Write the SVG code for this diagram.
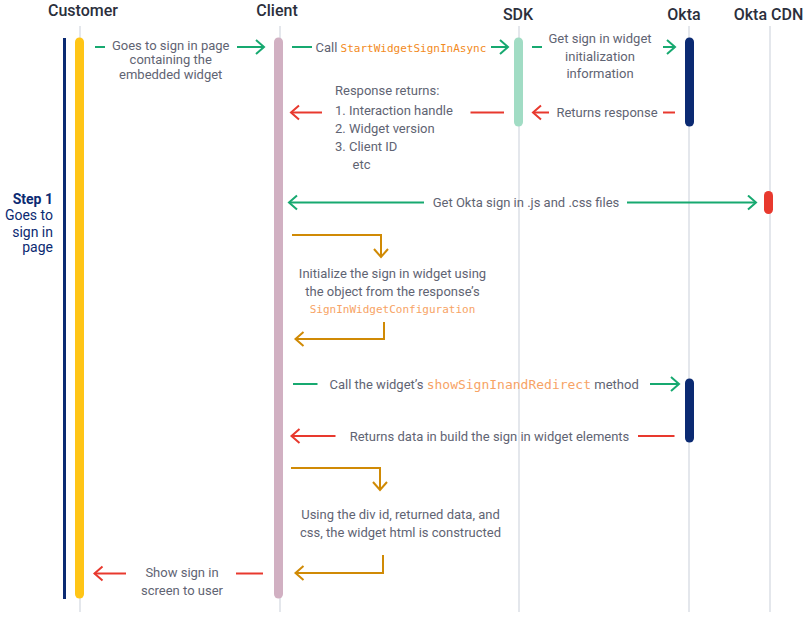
<svg xmlns="http://www.w3.org/2000/svg" width="811" height="619" viewBox="0 0 811 619">
<defs>
<style>
.hd{font-family:Roboto,"Liberation Sans",sans-serif;font-size:16px;font-weight:500;fill:#2b2f3c;text-anchor:middle}
.t{font-family:Roboto,"Liberation Sans",sans-serif;font-size:13px;fill:#5f6473}
.c{text-anchor:middle}
.code{font-family:"DejaVu Sans Mono","Liberation Mono",monospace;fill:#f7a365}
.code2{font-family:"DejaVu Sans Mono","Liberation Mono",monospace;fill:#f28a22;font-size:11px}
.small{font-size:11px}
.life{stroke:#e4e7ec;stroke-width:2;fill:none}
.bar{stroke-width:9;stroke-linecap:round;fill:none}
.g{stroke:#17a970;stroke-width:2;fill:none}
.r{stroke:#e8392e;stroke-width:2;fill:none}
.o{stroke:#d08a05;stroke-width:2;fill:none}
.step{font-family:Roboto,"Liberation Sans",sans-serif;font-size:14px;fill:#0b2a72;text-anchor:end}
</style>
<marker id="mg" markerUnits="userSpaceOnUse" markerWidth="12" markerHeight="18" refX="9" refY="8" orient="auto-start-reverse"><path d="M1,1 L9,8 L1,15" fill="none" stroke="#17a970" stroke-width="2"/></marker>
<marker id="mr" markerUnits="userSpaceOnUse" markerWidth="12" markerHeight="18" refX="9" refY="8" orient="auto-start-reverse"><path d="M1,1 L9,8 L1,15" fill="none" stroke="#e8392e" stroke-width="2"/></marker>
<marker id="mo" markerUnits="userSpaceOnUse" markerWidth="12" markerHeight="18" refX="9" refY="8" orient="auto-start-reverse"><path d="M1,1 L9,8 L1,15" fill="none" stroke="#d08a05" stroke-width="2"/></marker>
</defs>
<rect width="811" height="619" fill="#ffffff"/>

<g id="customer">
<text class="hd" x="83" y="16">Customer</text>
<line class="life" x1="80" y1="26" x2="80" y2="612"/>
<line class="bar" x1="79.5" y1="42" x2="79.5" y2="594" stroke="#ffc516"/>
</g>
<g id="client">
<text class="hd" x="277" y="16">Client</text>
<line class="life" x1="280" y1="26" x2="280" y2="612"/>
<line class="bar" x1="278.5" y1="42" x2="278.5" y2="594" stroke="#d1b0c2"/>
</g>
<g id="sdk">
<text class="hd" x="518" y="20">SDK</text>
<line class="life" x1="519" y1="26" x2="519" y2="612"/>
<line class="bar" x1="518.5" y1="42" x2="518.5" y2="122" stroke="#a1dcc4"/>
</g>
<g id="okta">
<text class="hd" x="684" y="20">Okta</text>
<line class="life" x1="689" y1="26" x2="689" y2="612"/>
<line class="bar" x1="689.5" y1="42" x2="689.5" y2="122" stroke="#0b2a72"/>
<line class="bar" x1="689.5" y1="383" x2="689.5" y2="438" stroke="#0b2a72"/>
</g>
<g id="okta-cdn">
<text class="hd" x="768.5" y="20">Okta CDN</text>
<line class="life" x1="770" y1="26" x2="770" y2="612"/>
<line class="bar" x1="768.5" y1="195.5" x2="768.5" y2="209.5" stroke="#e8392e"/>
</g>
<g id="step1">
<line x1="64.5" y1="38" x2="64.5" y2="599" stroke="#0b2a72" stroke-width="3"/>
<text class="step" x="53" y="204" font-weight="700">Step 1</text>
<text class="step" x="53" y="220">Goes to</text>
<text class="step" x="53" y="236.5">sign in</text>
<text class="step" x="53" y="252">page</text>
</g>

<g id="connectors">
<line class="g" x1="95" y1="47" x2="105" y2="47"/>
<line class="g" x1="237" y1="47" x2="264" y2="47" marker-end="url(#mg)"/>
<line class="g" x1="292" y1="47" x2="312" y2="47"/>
<line class="g" x1="491" y1="47" x2="508" y2="47" marker-end="url(#mg)"/>
<line class="g" x1="532" y1="47" x2="542" y2="47"/>
<line class="g" x1="663" y1="47" x2="675" y2="47" marker-end="url(#mg)"/>
<line class="r" x1="663" y1="112.5" x2="675" y2="112.5"/>
<line class="r" x1="549" y1="112.5" x2="533" y2="112.5" marker-end="url(#mr)"/>
<line class="r" x1="470.5" y1="112.5" x2="504" y2="112.5"/>
<line class="r" x1="322" y1="112.5" x2="291" y2="112.5" marker-end="url(#mr)"/>
<line class="g" x1="424" y1="202.5" x2="289" y2="202.5" marker-end="url(#mg)"/>
<line class="g" x1="627" y1="202.5" x2="756" y2="202.5" marker-end="url(#mg)"/>
<path class="o" d="M292,235 H381 V257" marker-end="url(#mo)"/>
<path class="o" d="M384,322 V339 H295.5" marker-end="url(#mo)"/>
<line class="g" x1="293" y1="384" x2="317.5" y2="384"/>
<line class="g" x1="650" y1="384" x2="679" y2="384" marker-end="url(#mg)"/>
<line class="r" x1="638" y1="436" x2="674.5" y2="436"/>
<line class="r" x1="335.5" y1="436" x2="291.5" y2="436" marker-end="url(#mr)"/>
<path class="o" d="M291,468 H380 V490" marker-end="url(#mo)"/>
<path class="o" d="M383,555 V573 H295.5" marker-end="url(#mo)"/>
<line class="r" x1="236" y1="573.5" x2="263" y2="573.5"/>
<line class="r" x1="126" y1="573.5" x2="94.5" y2="573.5" marker-end="url(#mr)"/>
</g>

<g id="labels">
<text class="t c" x="170.7" y="49.5">Goes to sign in page</text>
<text class="t c" x="170.7" y="64">containing the</text>
<text class="t c" x="170.7" y="78.5">embedded widget</text>
<text class="t" x="315.5" y="51.5">Call <tspan class="code2">StartWidgetSignInAsync</tspan></text>
<text class="t c" x="600" y="42.5">Get sign in widget</text>
<text class="t c" x="600" y="60.5">initialization</text>
<text class="t c" x="600" y="77.5">information</text>
<text class="t" x="335" y="94.5">Response returns:</text>
<text class="t" x="335" y="115">1. Interaction handle</text>
<text class="t" x="335" y="133">2. Widget version</text>
<text class="t" x="335" y="151">3. Client ID</text>
<text class="t" x="352.5" y="169">etc</text>
<text class="t c" x="607" y="117">Returns response</text>
<text class="t c" x="526" y="206.5">Get Okta sign in .js and .css files</text>
<text class="t c" x="392.5" y="277.5">Initialize the sign in widget using</text>
<text class="t c" x="392.5" y="295.5">the object from the response’s</text>
<text class="t c code small" x="392.5" y="313">SignInWidgetConfiguration</text>
<text class="t" x="329.5" y="388.5">Call the widget’s <tspan class="code">showSignInandRedirect</tspan> method</text>
<text class="t c" x="489.5" y="440.5">Returns data in build the sign in widget elements</text>
<text class="t c" x="400.5" y="518.5">Using the div id, returned data, and</text>
<text class="t c" x="400.5" y="536.5">css, the widget html is constructed</text>
<text class="t c" x="182" y="577">Show sign in</text>
<text class="t c" x="182" y="595">screen to user</text>
</g>
</svg>
